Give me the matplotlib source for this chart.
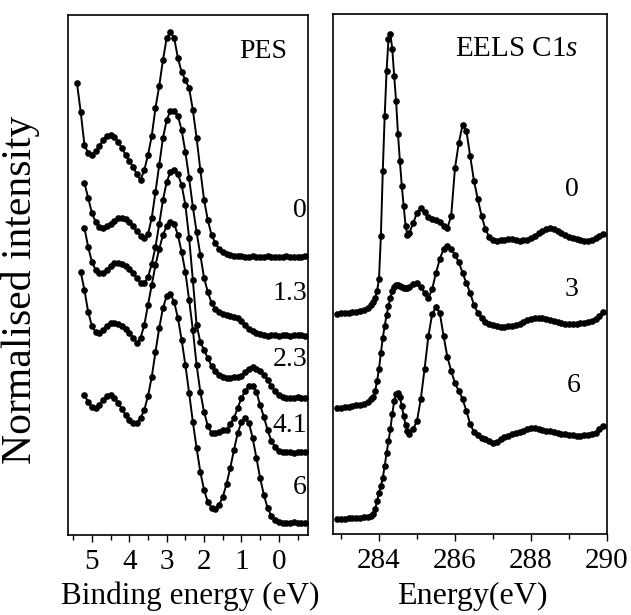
import numpy as np
import matplotlib
matplotlib.use("Agg")
import matplotlib.pyplot as plt
from matplotlib.ticker import MultipleLocator, FixedLocator

plt.rcParams['font.family'] = 'Liberation Serif'
plt.rcParams['mathtext.fontset'] = 'custom'
plt.rcParams['mathtext.rm'] = 'Liberation Serif'
plt.rcParams['mathtext.it'] = 'Liberation Serif:italic'

nan = np.nan

# PES: binding energy (eV), curves offset vertically, labelled by dose
pes_energy = [5.4, 5.3, 5.2, 5.1, 5.0, 4.9, 4.8, 4.7, 4.6, 4.5, 4.4, 4.3, 4.2, 4.1,
              4.0, 3.9, 3.8, 3.7, 3.6, 3.5, 3.4, 3.3, 3.2, 3.1, 3.0, 2.9, 2.8, 2.7,
              2.6, 2.5, 2.4, 2.3, 2.2, 2.1, 2.0, 1.9, 1.8, 1.7, 1.6, 1.5, 1.4, 1.3,
              1.2, 1.1, 1.0, 0.9, 0.8, 0.7, 0.6, 0.5, 0.4, 0.3, 0.2, 0.1, 0.0,
              -0.1, -0.2, -0.3, -0.4, -0.5, -0.6, -0.7]

pes_0 = [4.52, 4.23, 3.90, 3.82, 3.80, 3.84, 3.89, 3.95, 3.99, 4.00, 3.98, 3.93,
         3.87, 3.80, 3.74, 3.68, 3.61, 3.55, 3.65, 3.80, 3.99, 4.27, 4.49, 4.75,
         4.97, 5.03, 4.97, 4.77, 4.63, 4.55, 4.47, 4.25, 3.97, 3.65, 3.35, 3.15,
         3.00, 2.92, 2.86, 2.83, 2.81, 2.80,
         2.79, 2.79, 2.79, 2.78, 2.78, 2.79, 2.78, 2.78, 2.78, 2.79, 2.78, 2.78,
         2.78, 2.78, 2.79, 2.78, 2.78, 2.78, 2.78, 2.79]

pes_13 = [nan, nan,
          3.52, 3.37, 3.22, 3.13, 3.08, 3.07, 3.09, 3.11, 3.14, 3.17,
          3.17, 3.16, 3.13, 3.09, 3.04, 2.99, 2.97, 3.01, 3.17, 3.43,
          3.70, 3.97, 4.15, 4.24, 4.24, 4.19, 4.05, 3.83, 3.57, 3.28,
          3.03, 2.80, 2.57, 2.43, 2.32, 2.26, 2.23, 2.21, 2.20, 2.19,
          2.18, 2.17, 2.14, 2.10, 2.06, 2.04, 2.02, 2.01,
          2.00, 1.99, 2.00, 2.00, 1.99, 2.00, 2.00, 1.99, 2.00, 2.00, 2.00, 1.99]

pes_23 = [nan, nan,
          3.07, 2.88, 2.73, 2.65, 2.62, 2.62, 2.65, 2.69, 2.72, 2.72,
          2.71, 2.69, 2.66, 2.62, 2.57, 2.52, 2.52, 2.58, 2.71, 2.88,
          3.11, 3.35, 3.53, 3.63, 3.65, 3.61, 3.50, 3.30, 2.97, 2.55,
          2.10, 1.93, 1.85, 1.77, 1.69, 1.64, 1.60, 1.58, 1.57, 1.57,
          1.58, 1.58, 1.59, 1.63, 1.66, 1.68, 1.66, 1.64, 1.60, 1.55,
          1.49, 1.44, 1.40, 1.38, 1.37, 1.37, 1.37, 1.38, 1.37, 1.37]

pes_41 = [nan, 2.63,
          2.45, 2.23, 2.09, 2.03, 2.02, 2.05, 2.09, 2.12, 2.12, 2.11,
          2.09, 2.06, 2.02, 1.97, 1.92, 1.97, 2.10, 2.30, 2.50, 2.70,
          2.86, 3.00, 3.09, 3.13, 3.11, 3.00, 2.83, 2.63, 2.35, 2.05,
          1.70, 1.43, 1.23, 1.09, 1.02, 1.02, 1.03, 1.05, 1.05, 1.11,
          1.17, 1.27, 1.37, 1.44, 1.49, 1.49, 1.43, 1.30, 1.18, 1.05,
          0.94, 0.88, 0.84, 0.83, 0.83, 0.83, 0.82, 0.83, 0.83, 0.83]

pes_6 = [nan, nan,
         1.40, 1.33, 1.28, 1.27, 1.30, 1.35, 1.39, 1.40, 1.37, 1.32,
         1.26, 1.20, 1.15, 1.12, 1.12, 1.17, 1.25, 1.39, 1.58, 1.83,
         2.07, 2.27, 2.39, 2.41, 2.33, 2.17, 1.95, 1.70, 1.42, 1.13,
         0.87, 0.63, 0.45, 0.33, 0.27, 0.26, 0.30, 0.38, 0.51, 0.67,
         0.85, 1.02, 1.13, 1.17, 1.12, 0.97, 0.77, 0.57, 0.40, 0.27,
         0.19, 0.15, 0.13, 0.12, 0.12, 0.12, 0.13, 0.12, 0.12, 0.12]

pes_curves = [pes_0, pes_13, pes_23, pes_41, pes_6]
pes_labels = ['0', '1.3', '2.3', '4.1', '6']

# EELS C1s: energy loss (eV)
eels_energy = [282.9, 283.0, 283.1, 283.2, 283.3, 283.4, 283.5, 283.6, 283.7, 283.8,
               283.85, 283.9, 283.95, 284.0, 284.05, 284.1, 284.15, 284.2, 284.25,
               284.3, 284.35, 284.4, 284.45, 284.5, 284.55, 284.6, 284.65, 284.7,
               284.75, 284.8,
               284.9, 285.0, 285.1, 285.2, 285.3, 285.4, 285.5, 285.6, 285.7, 285.8,
               285.9, 286.0, 286.1, 286.2, 286.3, 286.4, 286.5, 286.6, 286.7, 286.8,
               286.9, 287.0, 287.1, 287.2, 287.3, 287.4, 287.5, 287.6, 287.7, 287.8,
               287.9, 288.0, 288.1, 288.2, 288.3, 288.4, 288.5, 288.6, 288.7, 288.8,
               288.9, 289.0, 289.1, 289.2, 289.3, 289.4, 289.5, 289.6, 289.7, 289.8,
               289.9]

eels_0 = [2.20, 2.21, 2.21, 2.21, 2.22, 2.22, 2.23, 2.24, 2.26, 2.29,
          2.32, 2.36, 2.43, 2.55, 2.98, 3.63, 4.18, 4.63, 4.95, 5.00,
          4.85, 4.58, 4.33, 4.00, 3.73, 3.48, 3.28, 3.08, 2.99, 3.01,
          3.11, 3.21, 3.26, 3.22, 3.17, 3.15, 3.14, 3.12, 3.08, 3.06,
          3.18, 3.66, 3.91, 4.09, 4.03, 3.78, 3.53, 3.35, 3.18, 3.05,
          2.97, 2.94, 2.93, 2.94, 2.94, 2.95, 2.95, 2.94, 2.93, 2.94,
          2.94, 2.96, 2.98, 3.01, 3.03, 3.05, 3.06, 3.05, 3.03, 3.01,
          2.99, 2.97, 2.96, 2.95, 2.94, 2.93, 2.93, 2.94, 2.96, 2.98,
          3.00]

eels_3 = [1.26, 1.26, 1.27, 1.27, 1.28, 1.29, 1.29, 1.30, 1.32, 1.35,
          1.37, 1.43, 1.53, 1.65, 1.81, 1.96, 2.08, 2.19, 2.28, 2.36,
          2.43, 2.47, 2.49, 2.49, 2.48, 2.47, 2.46, 2.46, 2.46, 2.47,
          2.50, 2.51, 2.47, 2.41, 2.36, 2.45, 2.61, 2.75, 2.85, 2.88,
          2.85, 2.79, 2.72, 2.61, 2.51, 2.41, 2.29, 2.21, 2.16, 2.12,
          2.10, 2.09, 2.08, 2.07, 2.07, 2.08, 2.08, 2.09, 2.10, 2.12,
          2.14, 2.15, 2.16, 2.16, 2.16, 2.15, 2.14, 2.13, 2.12, 2.11,
          2.10, 2.10, 2.10, 2.10, 2.11, 2.11, 2.12, 2.13, 2.15, 2.18,
          2.22]

eels_6 = [0.15, 0.15, 0.15, 0.16, 0.16, 0.16, 0.16, 0.17, 0.17, 0.18,
          0.20, 0.25, 0.33, 0.41, 0.48, 0.56, 0.68, 0.81, 0.93, 1.05,
          1.20, 1.33, 1.40, 1.41, 1.37, 1.28, 1.18, 1.09, 1.03, 1.00,
          1.05, 1.13, 1.35, 1.65, 1.98, 2.20, 2.27, 2.21, 1.98, 1.77,
          1.63, 1.51, 1.43, 1.35, 1.23, 1.10, 1.02, 0.99, 0.96, 0.95,
          0.93, 0.91, 0.92, 0.95, 0.97, 0.98, 1.00, 1.01, 1.02, 1.03,
          1.05, 1.06, 1.06, 1.05, 1.04, 1.03, 1.03, 1.02, 1.01, 1.00,
          1.00, 0.99, 0.99, 0.98, 0.98, 0.99, 0.99, 1.00, 1.01, 1.05,
          1.08]

eels_curves = [eels_0, eels_3, eels_6]
eels_labels = ['0', '3', '6']

W, H = 631, 615


def fx(px):
    return px / W


def fy(py):
    return 1 - py / H


fig = plt.figure(figsize=(W / 100, H / 100), dpi=100)
fig.patch.set_facecolor('white')

# axes boxes, placed from pixel positions
ax1 = fig.add_axes([fx(68), fy(535), (308 - 68) / W, (535 - 15) / H])
ax2 = fig.add_axes([fx(333), fy(534), (607 - 333) / W, (534 - 14) / H])

style = dict(color='black', lw=1.4, marker='o', ms=4.8, mew=0)

for y in pes_curves:
    ax1.plot(pes_energy, y, **style)
for y in eels_curves:
    ax2.plot(eels_energy, y, **style)

ax1.set_xlim(5.64, -0.78)
ax1.set_ylim(0, 5.2)
ax2.set_xlim(282.79, 290)
ax2.set_ylim(0, 5.2)

ax1.xaxis.set_major_locator(FixedLocator([5, 4, 3, 2, 1, 0]))
ax1.xaxis.set_minor_locator(MultipleLocator(0.5))
ax2.xaxis.set_major_locator(FixedLocator([284, 286, 288, 290]))
ax2.xaxis.set_minor_locator(MultipleLocator(1))

for ax in (ax1, ax2):
    ax.set_yticks([])
    ax.tick_params(axis='x', which='major', direction='out', length=5,
                   width=1.0, labelsize=21, pad=5)
    ax.tick_params(axis='x', which='minor', direction='out', length=3.5,
                   width=1.0)
    for s in ax.spines.values():
        s.set_linewidth(1.2)
        s.set_color('black')

# curve labels
pes_label_y = [210, 294, 360, 425, 488]
for lab, py in zip(pes_labels, pes_label_y):
    fig.text(fx(307), fy(py), lab, ha='right', va='center', fontsize=20)

eels_label_pos = [(572, 189), (571, 289), (574, 385)]
for lab, (px, py) in zip(eels_labels, eels_label_pos):
    fig.text(fx(px), fy(py), lab, ha='center', va='center', fontsize=20)

fig.text(fx(263), fy(51), 'PES', ha='center', va='center', fontsize=20)
fig.text(fx(517), fy(49), 'EELS C1$\\mathit{s}$', ha='center', va='center',
         fontsize=21)

fig.text(fx(190), fy(596), 'Binding energy (eV)', ha='center', va='center',
         fontsize=22.5)
fig.text(fx(472), fy(596), 'Energy(eV)', ha='center', va='center', fontsize=23)
fig.text(fx(21), fy(290), 'Normalised intensity', ha='center', va='center',
         rotation=90, fontsize=30)

fig.savefig('out.png', dpi=100, facecolor='white')
